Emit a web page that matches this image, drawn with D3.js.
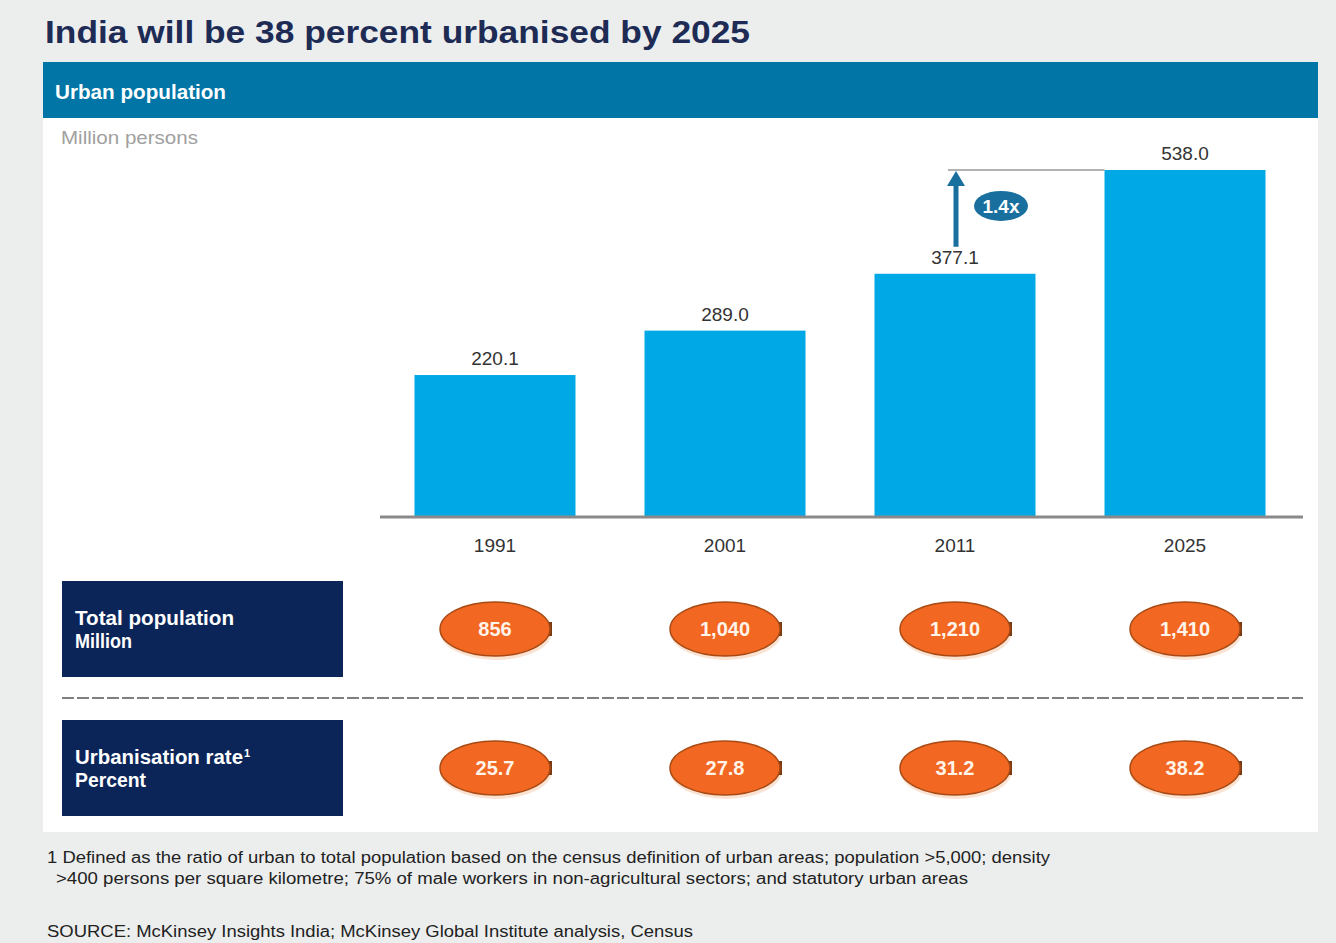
<!DOCTYPE html>
<html>
<head>
<meta charset="utf-8">
<script src="https://cdn.jsdelivr.net/npm/d3@7"></script>
<style>
  html, body { margin: 0; padding: 0; background: #eceeee; }
  svg { display: block; font-family: "Liberation Sans", Arial, sans-serif; }
</style>
</head>
<body>
<svg id="chart" width="1336" height="943"></svg>
<script>
// Urban population, million persons
const years = ["1991", "2001", "2011", "2025"];
const urbanPopulation = [220.1, 289.0, 377.1, 538.0];
const urbanLabels = ["220.1", "289.0", "377.1", "538.0"];
// Total population, million
const totalPopulation = [856, 1040, 1210, 1410];
const totalLabels = ["856", "1,040", "1,210", "1,410"];
// Urbanisation rate, percent
const urbanisationRate = [25.7, 27.8, 31.2, 38.2];
const rateLabels = ["25.7", "27.8", "31.2", "38.2"];
const growthLabel = "1.4x";

const svg = d3.select("#chart");

// Fixed-width text helper (keeps wide headline/footnote runs at their set length)
function label(xp, yp, size, str, opts = {}) {
  const t = svg.append("text").attr("x", xp).attr("y", yp)
    .attr("font-size", size).attr("fill", opts.fill || "#222222")
    .attr("font-weight", opts.bold ? "bold" : "normal")
    .text(str);
  if (opts.width) t.attr("textLength", opts.width).attr("lengthAdjust", "spacingAndGlyphs");
  return t;
}

// Background panel
svg.append("rect").attr("x", 43).attr("y", 62).attr("width", 1275).attr("height", 770).attr("fill", "#ffffff");

// Title
label(45, 43, 32, "India will be 38 percent urbanised by 2025", { bold: true, fill: "#1d2b55", width: 705 });

// Header band
svg.append("rect").attr("x", 43).attr("y", 62).attr("width", 1275).attr("height", 56).attr("fill", "#0075a6");
label(55, 99, 20, "Urban population", { bold: true, fill: "#ffffff", width: 171 });
label(61, 144, 19, "Million persons", { fill: "#a0a0a0", width: 137 });

// Scales
const x = d3.scaleBand().domain(years).range([380, 1300]).paddingInner(0.3).paddingOuter(0.15);
const y = d3.scaleLinear().domain([0, 538]).range([517, 170]);

// Bars
svg.append("g").selectAll("rect").data(urbanPopulation).join("rect")
  .attr("x", (d, i) => x(years[i]))
  .attr("y", d => y(d))
  .attr("width", x.bandwidth())
  .attr("height", d => y(0) - y(d))
  .attr("fill", "#00a9e6");

// Value labels
svg.append("g").selectAll("text").data(urbanPopulation).join("text")
  .attr("x", (d, i) => x(years[i]) + x.bandwidth() / 2)
  .attr("y", d => y(d) - 10)
  .attr("text-anchor", "middle").attr("font-size", 19).attr("fill", "#333333")
  .text((d, i) => urbanLabels[i]);

// Category axis
const xAxis = svg.append("g").attr("transform", `translate(0,${y(0)})`)
  .call(d3.axisBottom(x).tickSize(0).tickPadding(22));
xAxis.select(".domain").attr("d", "M380,0H1303").attr("stroke", "#8a8a8a").attr("stroke-width", 3);
xAxis.selectAll("text").attr("font-size", 19).attr("fill", "#333333")
  .attr("font-family", "Liberation Sans, Arial, sans-serif");

// Growth annotation between 2011 and 2025
const arrowX = x("2011") + x.bandwidth() / 2 + 1;
const arrowColor = "#19709f";
svg.append("line")
  .attr("x1", arrowX - 8).attr("x2", x("2025"))
  .attr("y1", y(urbanPopulation[3])).attr("y2", y(urbanPopulation[3]))
  .attr("stroke", "#9a9a9a").attr("stroke-width", 1.5);
svg.append("line")
  .attr("x1", arrowX).attr("x2", arrowX)
  .attr("y1", y(urbanPopulation[2]) - 27).attr("y2", y(urbanPopulation[3]) + 12)
  .attr("stroke", arrowColor).attr("stroke-width", 5);
svg.append("path")
  .attr("d", `M${arrowX - 9},${y(urbanPopulation[3]) + 16} L${arrowX},${y(urbanPopulation[3]) + 1} L${arrowX + 9},${y(urbanPopulation[3]) + 16} Z`)
  .attr("fill", arrowColor);
const bubbleY = (y(urbanPopulation[2]) + y(urbanPopulation[3])) / 2 - 16;
svg.append("ellipse").attr("cx", arrowX + 45).attr("cy", bubbleY)
  .attr("rx", 27).attr("ry", 15).attr("fill", arrowColor);
svg.append("text").attr("x", arrowX + 45).attr("y", bubbleY + 7)
  .attr("text-anchor", "middle").attr("font-size", 19).attr("font-weight", "bold")
  .attr("fill", "#ffffff")
  .text(growthLabel);

// Row labels
function rowLabel(top, line1, w1, line2, w2, sup) {
  svg.append("rect").attr("x", 62).attr("y", top).attr("width", 281).attr("height", 96).attr("fill", "#0b2559");
  const t1 = label(75, top + 44, 20, line1, { bold: true, fill: "#ffffff", width: w1 });
  if (sup) {
    const bb = t1.node().getBBox();
    label(75 + w1 + 1, top + 37, 11, sup, { bold: true, fill: "#ffffff" });
  }
  label(75, top + 67, 20, line2, { bold: true, fill: "#ffffff", width: w2 });
}
rowLabel(581, "Total population", 159, "Million", 57, null);
rowLabel(720, "Urbanisation rate", 168, "Percent", 71, "1");

// Orange value ovals
function ovalRow(values, labels, cy) {
  const g = svg.append("g");
  const cells = g.selectAll("g").data(values).join("g")
    .attr("transform", (d, i) => `translate(${x(years[i]) + x.bandwidth() / 2},${cy})`);
  cells.append("ellipse").attr("cx", 1).attr("cy", 3).attr("rx", 56).attr("ry", 28).attr("fill", "#f6c7a8").attr("opacity", 0.5);
  cells.append("rect").attr("x", 52).attr("y", -7).attr("width", 5).attr("height", 14).attr("fill", "#7a3a12");
  cells.append("ellipse").attr("rx", 55).attr("ry", 27).attr("fill", "#f26722")
    .attr("stroke", "#a84a14").attr("stroke-width", 1.5);
  cells.append("text").attr("y", 7).attr("text-anchor", "middle")
    .attr("font-size", 20).attr("font-weight", "bold").attr("fill", "#fff4ea")
    .text((d, i) => labels[i]);
}
ovalRow(totalPopulation, totalLabels, 629);
ovalRow(urbanisationRate, rateLabels, 768);

// Dashed separator
svg.append("line").attr("x1", 62).attr("x2", 1303).attr("y1", 698).attr("y2", 698)
  .attr("stroke", "#555555").attr("stroke-width", 1.5).attr("stroke-dasharray", "12,3");

// Footnotes
label(47, 863, 16, "1 Defined as the ratio of urban to total population based on the census definition of urban areas; population >5,000; density", { width: 1003 });
label(56, 884, 16, ">400 persons per square kilometre; 75% of male workers in non-agricultural sectors; and statutory urban areas", { width: 912 });
label(47, 937, 16, "SOURCE: McKinsey Insights India; McKinsey Global Institute analysis, Census", { width: 646 });
</script>
</body>
</html>
